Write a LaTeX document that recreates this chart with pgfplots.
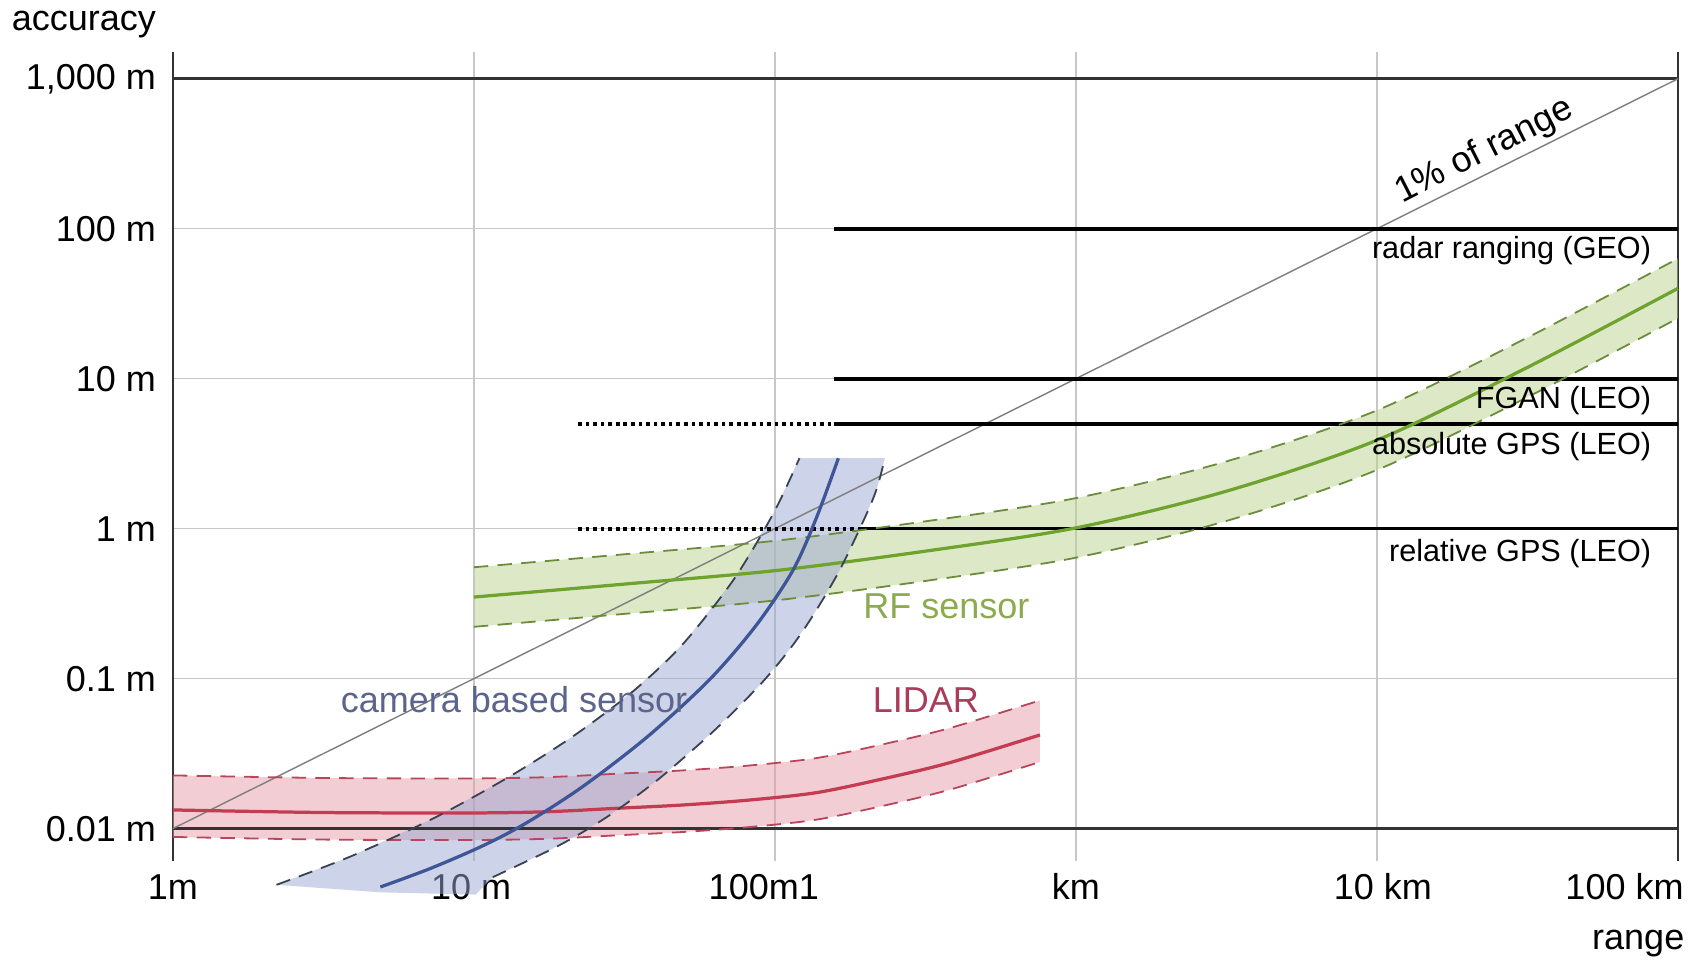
\documentclass[border=0pt]{standalone}
\usepackage{pgfplots}
\pgfplotsset{compat=1.18}
\usepgfplotslibrary{fillbetween}
\usepackage{fontspec}
\setmainfont{Liberation Sans}

\definecolor{gfill}{HTML}{BBD38D}
\definecolor{bfill}{HTML}{9BA7D3}
\definecolor{rfill}{HTML}{E59BA7}
\definecolor{gline}{HTML}{6EA32E}
\definecolor{gdash}{HTML}{6B8C3A}
\definecolor{bline}{HTML}{3E5596}
\definecolor{bdash}{HTML}{3A4250}
\definecolor{rline}{HTML}{C43C52}
\definecolor{rdash}{HTML}{B8465A}
\definecolor{btext}{HTML}{5A648C}
\definecolor{rtext}{HTML}{AA3C5A}
\definecolor{gtext}{HTML}{8CAA50}

\begin{document}
\begin{tikzpicture}
\begin{axis}[
  at={(0,0)}, anchor=south west,
  scale only axis, width=417.9pt, height=224.7pt,
  xmode=log, ymode=log,
  xmin=1, xmax=100000, ymin=0.006079, ymax=1513,
  clip=false,
  set layers,
  separate axis lines,
  x axis line style={draw=none},
  y axis line style={draw=black!80, line width=0.7pt},
  xtick={1,10,100,1000,10000,100000},
  xticklabels={},
  ytick={0.01,0.1,1,10,100,1000},
  yticklabels={0.01 m,0.1 m,1 m,10 m,100 m,{1,000 m}},
  yticklabel style={anchor=east, inner sep=0pt, xshift=-4.5pt},
  major tick length=0pt, minor tick length=0pt,
  grid=major, grid style={draw=black!22, line width=0.4pt},
]
% x tick labels
\node[anchor=base, inner sep=0pt] at (axis cs:1,0.006079) [yshift=-10.8pt] {1m};
\node[anchor=base, inner sep=0pt] at (axis cs:9.8,0.006079) [yshift=-10.8pt] {10 m};
\node[anchor=base, inner sep=0pt] at (axis cs:91.9,0.006079) [yshift=-10.8pt] {100m1};
\node[anchor=base, inner sep=0pt] at (axis cs:1000,0.006079) [yshift=-10.8pt] {km};
\node[anchor=base, inner sep=0pt] at (axis cs:10470,0.006079) [yshift=-10.8pt] {10 km};
\node[anchor=base east, inner sep=0pt] at (axis cs:100000,0.006079) [yshift=-10.8pt, xshift=1.8pt] {100 km};
\node[anchor=base east, inner sep=0pt] at (axis cs:100000,0.006079) [yshift=-24.6pt, xshift=2pt] {range};
\node[anchor=base east, inner sep=0pt] at (axis cs:1,1513) [yshift=6pt, xshift=-4.5pt] {accuracy};

% camera band fill
\addplot[draw=none, fill=bfill, fill opacity=0.5] coordinates {
 (2.21,0.00422) (3.88,0.0065) (7.27,0.01159) (12.96,0.02188) (21.3,0.0411)
 (33.8,0.0823) (49.4,0.1694) (72.9,0.456) (99.0,1.27) (120.7,2.95)
 (232,2.95) (218.9,1.892) (201.6,1.251) (163.9,0.5253) (133.3,0.2602)
 (112.1,0.1572) (88.9,0.0902) (62.3,0.0443) (41.6,0.02182) (29.9,0.01328)
 (23.1,0.00952) (17.89,0.00719) (11.55,0.00474) (10.12,0.00363) (4.89,0.00376)
} --cycle;

% frame lines and 1% line
\addplot[draw=black!80, line width=0.8pt] coordinates {(1,0.01) (100000,0.01)};
\addplot[draw=black!80, line width=0.8pt] coordinates {(1,1000) (100000,1000)};
\addplot[draw=black!50, line width=0.4pt] coordinates {(1,0.01) (100000,1000)};

% range lines
\addplot[black, line width=1pt] coordinates {(157,100) (100000,100)};
\addplot[black, line width=1pt] coordinates {(157,10) (100000,10)};
\addplot[black, line width=1pt] coordinates {(157,5) (100000,5)};
\addplot[black, line width=1.1pt, dash pattern=on 1pt off 1.1pt] coordinates {(22.2,5) (157,5)};
\addplot[black, line width=1pt] coordinates {(190,1) (100000,1)};
\addplot[black, line width=1.1pt, dash pattern=on 1pt off 1.1pt] coordinates {(22.2,1) (190,1)};

% LIDAR band
\addplot[name path=lu, draw=rdash, line width=0.5pt, dash pattern=on 4pt off 2.6pt, smooth] coordinates {
 (1,0.02264) (3.18,0.02176) (10.12,0.02162) (17.91,0.02207) (29.83,0.02322)
 (49.66,0.02445) (82.7,0.02638) (137.7,0.02955) (229.3,0.03655) (381.8,0.04684) (760,0.0716)};
\addplot[name path=ll, draw=rdash, line width=0.5pt, dash pattern=on 4pt off 2.6pt, smooth] coordinates {
 (1,0.0088) (3.18,0.00845) (10.12,0.0084) (17.91,0.00857) (29.83,0.00902)
 (49.66,0.0095) (82.7,0.01025) (137.7,0.01148) (229.3,0.0142) (381.8,0.0182) (760,0.02783)};
\addplot[fill=rfill, fill opacity=0.5, draw=none] fill between[of=lu and ll];
\addplot[draw=rline, line width=0.9pt, smooth] coordinates {
 (1,0.01332) (3.18,0.0128) (10.12,0.01272) (17.91,0.01298) (29.83,0.01366)
 (49.66,0.01438) (82.7,0.01552) (137.7,0.01738) (229.3,0.0215) (381.8,0.02755) (760,0.04213)};

% RF band
\addplot[name path=gu, draw=gdash, line width=0.5pt, dash pattern=on 4pt off 2.6pt, smooth] coordinates {
 (10,0.553) (31.6,0.675) (100,0.830) (316,1.119) (1000,1.599)
 (3162,2.809) (10000,6.15) (31623,18.79) (100000,63.2)};
\addplot[name path=gl, draw=gdash, line width=0.5pt, dash pattern=on 4pt off 2.6pt, smooth] coordinates {
 (10,0.2216) (31.6,0.2703) (100,0.3323) (316,0.4482) (1000,0.6406)
 (3162,1.1255) (10000,2.462) (31623,7.53) (100000,25.3)};
\addplot[fill=gfill, fill opacity=0.5, draw=none] fill between[of=gu and gl];
\addplot[draw=gline, line width=0.9pt, smooth] coordinates {
 (10,0.35) (31.6,0.427) (100,0.525) (316,0.708) (1000,1.012)
 (3162,1.778) (10000,3.89) (31623,11.89) (100000,40.0)};

% camera band lines
\addplot[draw=bdash, line width=0.5pt, dash pattern=on 4pt off 2.6pt, smooth] coordinates {
 (2.21,0.00422) (3.88,0.0065) (7.27,0.01159) (12.96,0.02188) (21.3,0.0411)
 (33.8,0.0823) (49.4,0.1694) (72.9,0.456) (99.0,1.27) (120.7,2.95)};
\addplot[draw=bdash, line width=0.5pt, dash pattern=on 4pt off 2.6pt, smooth] coordinates {
 (11.55,0.00474) (17.89,0.00719) (23.1,0.00952) (29.9,0.01328) (41.6,0.02182)
 (62.3,0.0443) (88.9,0.0902) (112.1,0.1572) (133.3,0.2602) (163.9,0.5253)
 (201.6,1.251) (218.9,1.892) (232,2.95)};
\addplot[draw=bline, line width=0.9pt, smooth] coordinates {
 (4.89,0.00408) (7.15,0.00541) (10.72,0.00769) (15.0,0.01096) (23.1,0.01919)
 (37.9,0.0413) (60.8,0.0989) (86.8,0.2275) (114.9,0.5284) (137.8,1.197) (162.6,2.95)};

% labels
\node[anchor=east, font=\fontsize{8.5}{10}\selectfont] at (axis cs:100000,100) [yshift=-6pt, xshift=-3.9pt] {radar ranging (GEO)};
\node[anchor=east, font=\fontsize{8.5}{10}\selectfont] at (axis cs:100000,10) [yshift=-6pt, xshift=-3.9pt] {FGAN (LEO)};
\node[anchor=east, font=\fontsize{8.5}{10}\selectfont] at (axis cs:100000,5) [yshift=-6.3pt, xshift=-3.9pt] {absolute GPS (LEO)};
\node[anchor=east, font=\fontsize{8.5}{10}\selectfont] at (axis cs:100000,1) [yshift=-6.9pt, xshift=-3.9pt] {relative GPS (LEO)};
\node[rotate=27, anchor=south, inner sep=1pt] at (axis cs:24500,245) {1\% of range};
\node[text=btext] at (axis cs:13.6,0.072) {camera based sensor};
\node[text=rtext] at (axis cs:317.5,0.072) {LIDAR};
\node[text=gtext] at (axis cs:371.5,0.305) {RF sensor};
\end{axis}
\path (-48pt,-27.3pt) rectangle (422.4pt,239.1pt);
\end{tikzpicture}
\end{document}
